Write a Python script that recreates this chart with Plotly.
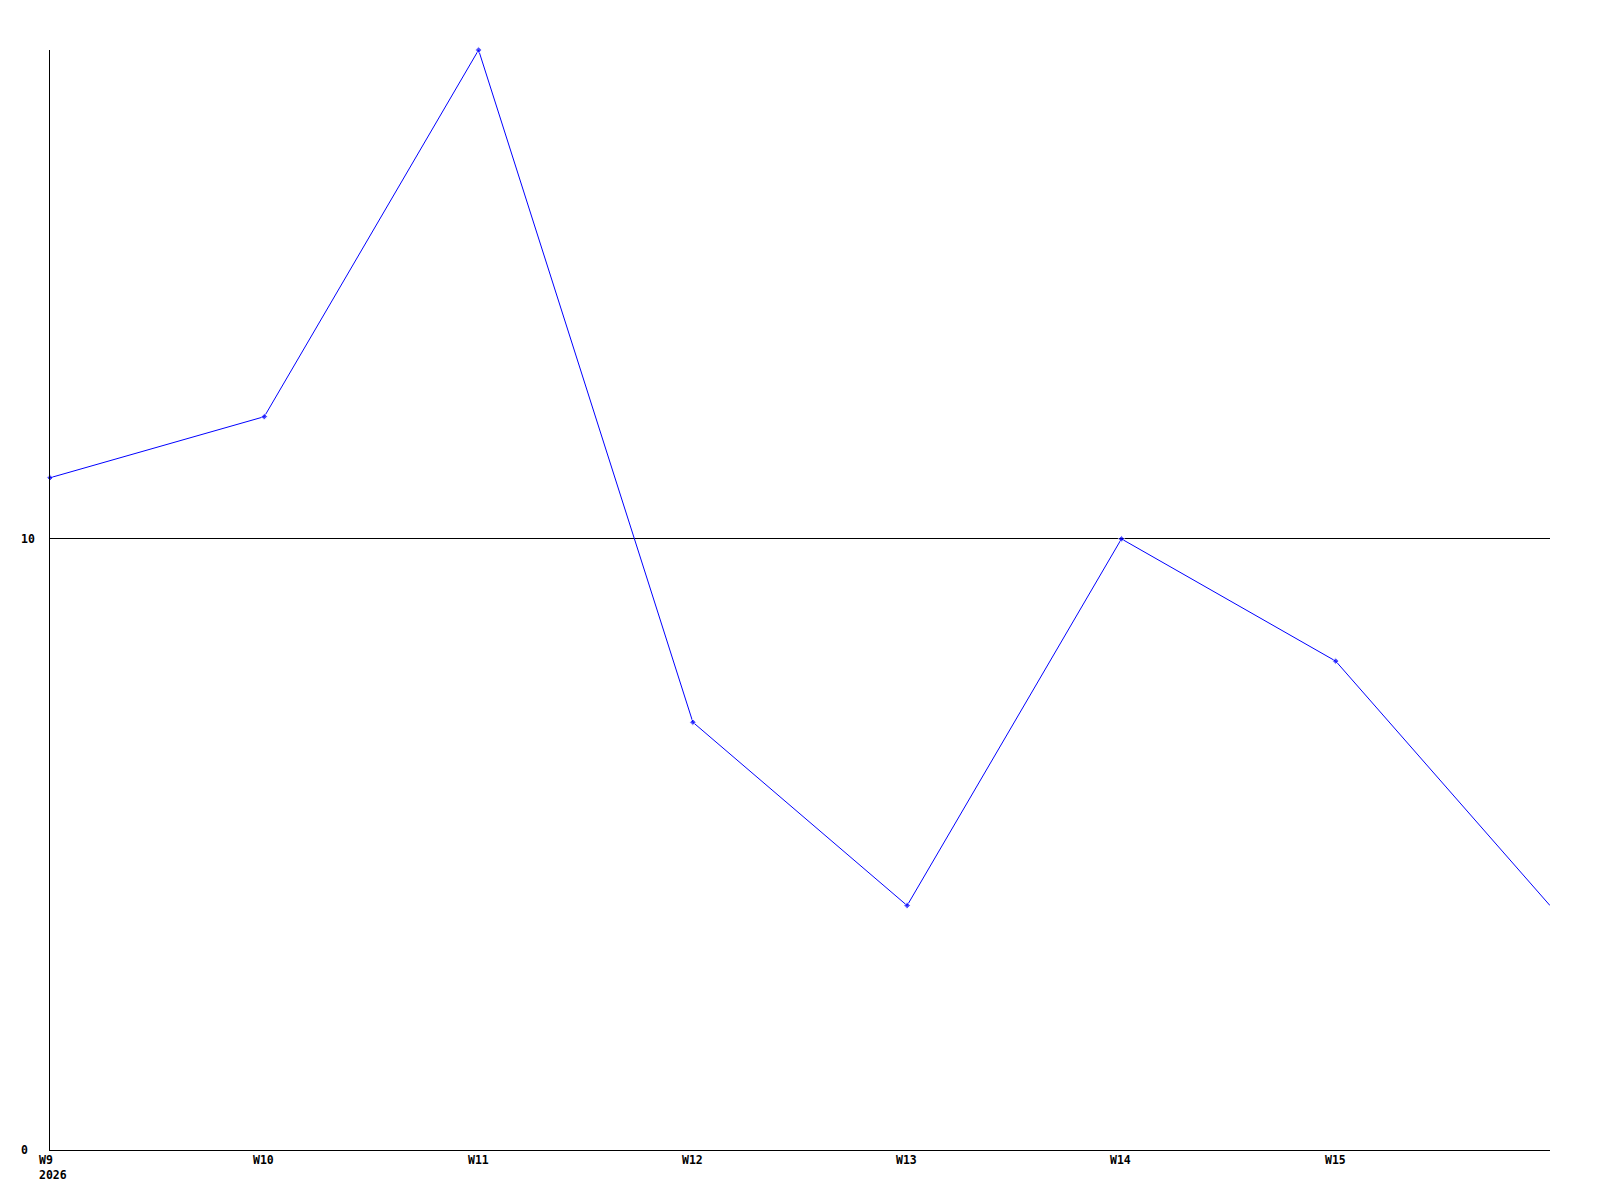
import plotly.graph_objects as go

weeks = [9, 10, 11, 12, 13, 14, 15, 16]
week_labels = ["W9", "W10", "W11", "W12", "W13", "W14", "W15"]
values = [11, 12, 18, 7, 4, 10, 8, 4]
year_label = "2026"
y_ticks = [0, 10]

fig = go.Figure()
fig.add_trace(go.Scatter(
    x=weeks, y=values, mode="lines+markers",
    line=dict(color="#0000ff", width=1),
    marker=dict(color="#0000ff", size=[5] * (len(values) - 1) + [0], symbol="diamond"),
    cliponaxis=False, hoverinfo="x+y",
))

font = dict(family="DejaVu Sans Mono", size=11.5, color="#000000", weight="bold")

for i, lab in enumerate(week_labels):
    fig.add_annotation(x=weeks[i], y=0, xref="x", yref="paper", text=lab,
                       showarrow=False, xanchor="left", yanchor="top",
                       xshift=-13, yshift=-1, font=font, align="left")
fig.add_annotation(x=weeks[0], y=0, xref="x", yref="paper", text=year_label,
                   showarrow=False, xanchor="left", yanchor="top",
                   xshift=-13, yshift=-16, font=font, align="left")
for v in y_ticks:
    fig.add_annotation(x=0, y=v, xref="paper", yref="y", text=str(v),
                       showarrow=False, xanchor="left", yanchor="middle",
                       xshift=-31, font=font)

# page body has an 8px margin; compensate so the plot area sits at 50..1550 x 50..1150
fig.update_layout(
    width=1592, height=1192,
    margin=dict(l=42, r=50, t=42, b=50),
    plot_bgcolor="#ffffff", paper_bgcolor="#ffffff",
    showlegend=False,
    xaxis=dict(range=[9, 16], showgrid=False, zeroline=False, showticklabels=False,
               ticks="", showline=True, linecolor="#000000", linewidth=1),
    yaxis=dict(range=[0, 18], showgrid=True, gridcolor="#000000", gridwidth=1,
               tickvals=[10], showticklabels=False, ticks="", zeroline=False,
               showline=True, linecolor="#000000", linewidth=1),
)
fig.write_html("out.html")
